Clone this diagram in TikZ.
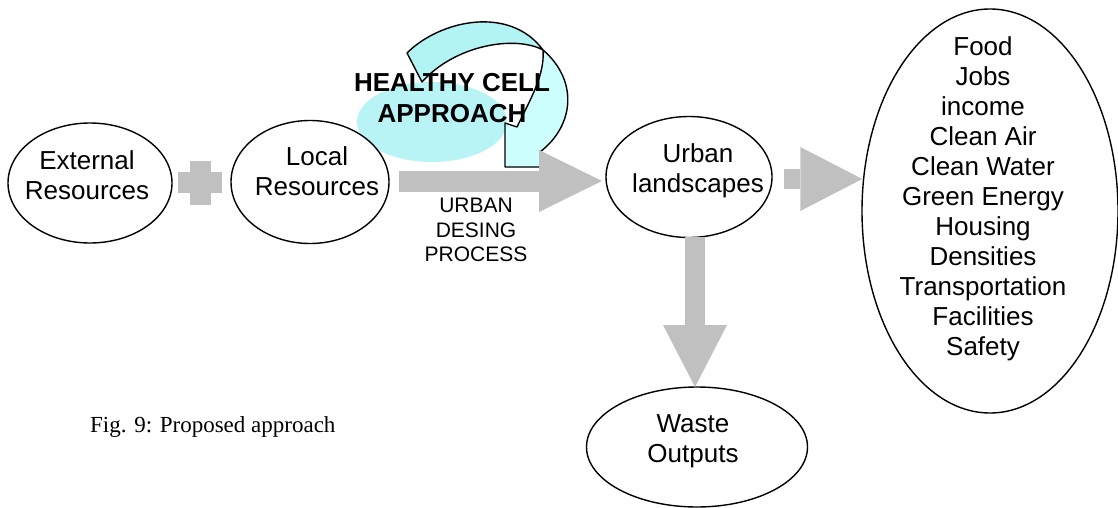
\documentclass[tikz,border=0pt]{standalone}
\usepackage{fontspec}
\setmainfont{Liberation Sans}
\newfontfamily\capfont{Liberation Serif}
\usetikzlibrary{arrows.meta,shapes.geometric,calc}
\definecolor{arrowgray}{RGB}{192,192,192}
\definecolor{cyanA}{RGB}{178,243,243}
\definecolor{cyanB}{RGB}{206,255,255}
\definecolor{cyanE}{RGB}{184,244,246}
\begin{document}
\begin{tikzpicture}[x=1pt,y=-1pt,
  ell/.style={draw=black, line width=1.4pt, ellipse, fill=white, inner sep=0pt},
  txt/.style={align=center, font=\fontsize{26}{30}\selectfont, inner sep=0pt},
  bigarrow/.style={draw=arrowgray, line width=21pt,
    -{Triangle[length=63pt,width=62pt,line width=0pt,fill=arrowgray]}},
  midarrow/.style={draw=arrowgray, line width=20pt,
    -{Triangle[length=62pt,width=64pt,line width=0pt,fill=arrowgray]}},
  ribbon/.style={draw=black, line width=1.4pt, line join=round}]
\useasboundingbox (0,0) rectangle (1118,508);

% cyan background ellipse of the healthy cell label
\node[ellipse, fill=cyanE, minimum width=150pt, minimum height=80pt, inner sep=0pt] (hcbg) at (432,122) {};

% curved ribbon arrow
\fill[cyanB] (543,50) .. controls (578,80) and (575,125) .. (540,152) -- (540,167) -- (505,167) -- (505,123) -- (517,127) .. controls (530,100) and (545,75) .. (543,50) -- cycle;
\draw[ribbon] (543,50) .. controls (578,80) and (575,125) .. (540,152) -- (540,167) -- (505,167) -- (505,123) -- (517,127) .. controls (530,100) and (545,75) .. (543,50);
\filldraw[ribbon, fill=cyanA] (407,53) .. controls (440,20) and (510,5) .. (543,50) .. controls (515,35) and (455,45) .. (422,82) -- cycle;

% ellipses
\node[ell, minimum width=164pt, minimum height=120pt] (ext) at (90,183) {};
\node[ell, minimum width=158pt, minimum height=123pt] (local) at (310,182) {};
\node[ell, minimum width=166pt, minimum height=121pt] (urban) at (689,177) {};
\node[ell, minimum width=221pt, minimum height=120pt] (waste) at (697,447) {};
\node[ell, minimum width=256pt, minimum height=404pt] (out) at (990,211) {};

% texts
\node[txt] (exttxt) at (87,175) {External\\Resources};
\node[txt] (localtxt) at (317,171) {Local\\Resources};
\node[txt] (urbantxt) at (698,171) {Urban\\landscapes};
\node[txt] (wastetxt) at (693,441) {Waste\\Outputs};
\node[txt] (outtxt) at (983,199) {Food\\Jobs\\income\\Clean Air\\Clean Water\\Green Energy\\Housing\\Densities\\Transportation\\Facilities\\Safety};

% plus sign
\fill[arrowgray] (178,172) rectangle (222,193);
\fill[arrowgray] (190,161) rectangle (211,205);

% block arrows
\draw[bigarrow] ([xshift=9pt]local.east |- 0,181) -- (602,181) coordinate (bigtip);
\draw[midarrow] ([xshift=11pt]urban.east |- 0,179) -- ([xshift=1pt]out.west |- 0,179);
\draw[midarrow] (695,237) -- (695,387);

% labels
\node[align=center, inner sep=0pt, font=\bfseries\fontsize{26}{31}\selectfont] (hc) at (452,98) {HEALTHY CELL\\APPROACH};
\node[align=center, inner sep=0pt, font=\fontsize{21}{24.5}\selectfont] (udp) at (476,230) {URBAN\\DESING\\PROCESS};
\node[anchor=base west, inner sep=0pt, font=\capfont\fontsize{23}{27}\selectfont] (cap) at (90,432) {Fig. 9: Proposed approach};
\end{tikzpicture}
\end{document}
